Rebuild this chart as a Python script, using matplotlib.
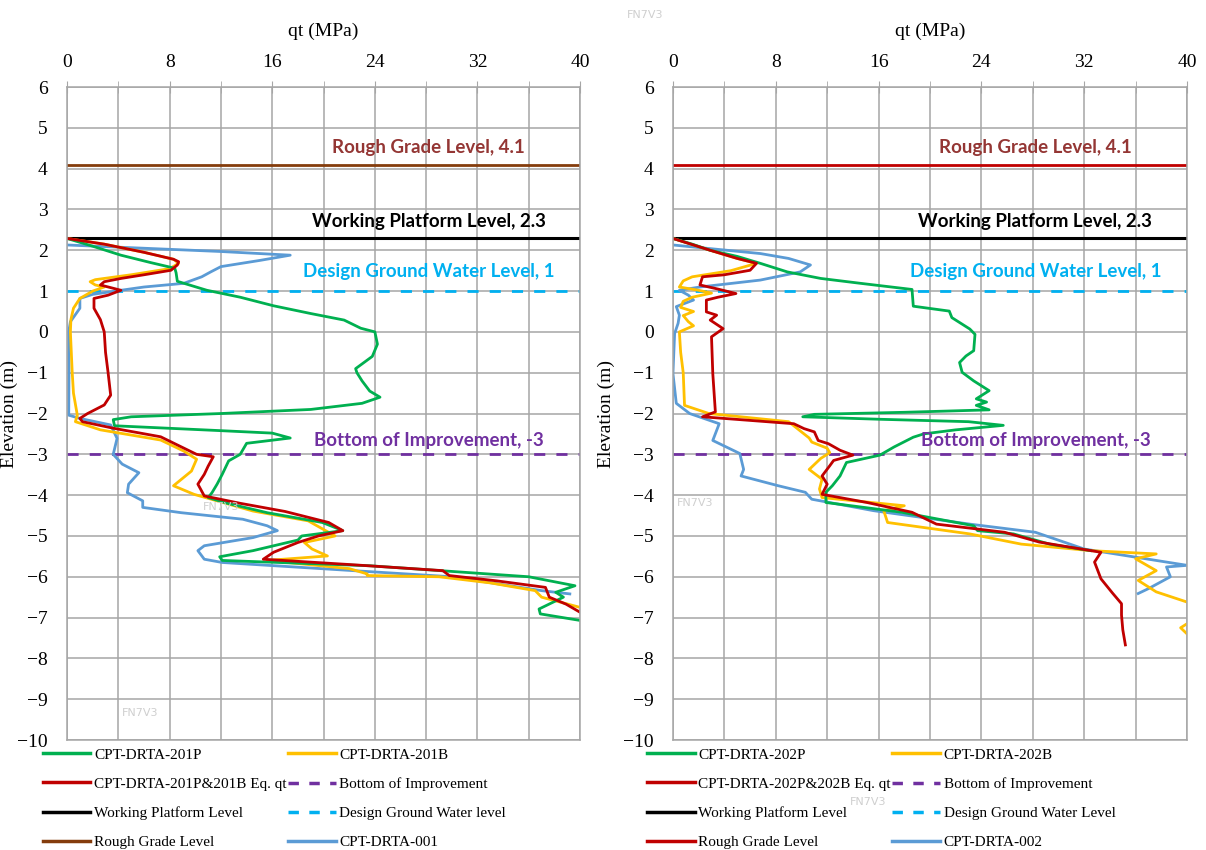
import matplotlib.pyplot as plt
import numpy as np
from matplotlib.lines import Line2D
from matplotlib.ticker import MultipleLocator

# === DATA ===
# reference levels (m)
rough_grade = 4.1
working_platform = 2.3
design_gw = 1.0
bottom_improvement = -3.0

# --- CPT 201 group (left panel) ---
elev_201P = [2.29, 2.1, 1.88, 1.7, 1.56, 1.45, 1.24, 1.02, 0.85, 0.64, 0.45, 0.29, 0.09, 0.0, -0.3, -0.6,
             -0.9, -1.0, -1.2, -1.45, -1.6, -1.75, -1.9, -2.0, -2.08, -2.15, -2.3, -2.42, -2.48, -2.6, -2.73,
             -3.0, -3.16, -3.49, -3.73, -3.94, -4.06, -4.2, -4.43, -4.67, -4.87, -5.0, -5.1, -5.36, -5.51,
             -5.6, -5.73, -6.0, -6.22, -6.38, -6.5, -6.79, -6.91, -7.07]
qt_201P = [0.0, 2.0, 4.2, 6.5, 8.4, 8.5, 8.6, 10.9, 13.5, 16.1, 19.0, 21.6, 22.9, 24.0, 24.2, 23.8,
           22.5, 22.6, 23.0, 23.6, 24.4, 23.0, 19.0, 12.0, 5.0, 3.6, 3.7, 12.0, 16.0, 17.4, 14.0,
           13.5, 12.6, 12.1, 11.7, 11.3, 11.0, 12.5, 15.6, 19.9, 21.5, 18.3, 18.0, 14.5, 11.9,
           12.1, 23.6, 36.0, 39.6, 38.1, 38.7, 36.8, 36.9, 40.0]

elev_201B = [2.29, 2.15, 1.95, 1.78, 1.68, 1.55, 1.4, 1.28, 1.23, 1.15, 1.1, 1.0, 0.82, 0.58, 0.3, 0.0,
             -0.98, -1.5, -2.04, -2.2, -2.4, -2.65, -2.92, -3.12, -3.41, -3.77, -3.98, -4.39, -4.63, -5.0,
             -5.16, -5.32, -5.49, -5.6, -5.8, -5.93, -5.97, -6.0, -6.15, -6.34, -6.5, -6.75]
qt_201B = [0.0, 2.9, 6.0, 8.3, 8.7, 8.0, 5.0, 2.2, 1.8, 2.2, 2.9, 2.0, 1.0, 0.5, 0.3, 0.26,
           0.4, 0.5, 0.8, 0.65, 2.6, 7.3, 9.1, 10.1, 9.7, 8.3, 9.9, 14.5, 18.8, 20.9,
           18.5, 19.1, 20.3, 15.6, 22.0, 23.4, 23.4, 29.0, 33.0, 36.5, 37.0, 40.0]

elev_201eq = [2.29, 2.15, 1.95, 1.78, 1.72, 1.64, 1.51, 1.4, 1.31, 1.23, 1.15, 1.02, 0.9, 0.82, 0.58,
              0.3, 0.0, -0.5, -1.0, -1.55, -1.79, -2.0, -2.12, -2.2, -2.36, -2.57, -2.77, -3.0, -3.06,
              -3.29, -3.49, -3.73, -4.02, -4.2, -4.4, -4.67, -4.87, -5.0, -5.16, -5.4, -5.57, -5.7,
              -5.85, -5.97, -6.1, -6.26, -6.5, -6.67, -6.87]
qt_201eq = [0.0, 2.9, 6.0, 8.3, 8.7, 8.6, 8.1, 6.0, 4.2, 2.9, 2.6, 4.2, 3.2, 2.1, 2.1,
            2.6, 2.9, 3.0, 3.2, 3.4, 2.9, 1.6, 1.0, 1.2, 3.6, 7.3, 8.6, 10.1, 11.4,
            11.0, 10.7, 10.2, 10.7, 13.5, 17.0, 20.4, 21.5, 19.6, 18.0, 16.1, 15.3, 22.0,
            29.3, 29.8, 33.5, 37.3, 37.6, 38.9, 40.0]

elev_001 = [2.13, 2.05, 1.97, 1.88, 1.75, 1.6, 1.47, 1.35, 1.19, 1.1, 1.02, 0.92, 0.82, 0.58, 0.25,
            0.0, -1.0, -2.04, -2.12, -2.28, -2.61, -3.0, -3.24, -3.45, -3.73, -3.94, -4.14, -4.3,
            -4.43, -4.59, -4.75, -4.87, -5.04, -5.24, -5.36, -5.57, -5.65, -6.0, -6.34, -6.42]
qt_001 = [0.0, 6.0, 12.0, 17.4, 15.0, 12.0, 11.2, 10.5, 9.1, 6.0, 4.2, 2.0, 1.0, 1.0, 0.26,
          0.13, 0.15, 0.13, 1.0, 3.4, 3.9, 3.6, 4.3, 5.6, 4.8, 4.7, 5.9, 5.9,
          8.9, 13.7, 15.6, 16.4, 14.5, 10.7, 10.2, 10.7, 12.1, 30.0, 37.0, 39.2]

# --- CPT 202 group (right panel) ---
elev_202P = [2.29, 2.15, 2.0, 1.85, 1.68, 1.47, 1.31, 1.19, 1.04, 0.63, 0.51, 0.35, 0.27, 0.07, -0.06,
             -0.46, -0.59, -0.75, -0.99, -1.2, -1.44, -1.64, -1.72, -1.8, -1.91, -1.97, -2.02, -2.08,
             -2.14, -2.2, -2.29, -2.4, -2.5, -2.58, -2.82, -3.02, -3.2, -3.53, -3.77, -3.93, -4.18,
             -4.42, -4.75, -4.87, -4.95, -5.2, -5.36]
qt_202P = [0.0, 1.5, 2.9, 5.0, 6.8, 8.9, 11.5, 14.6, 18.6, 18.7, 21.5, 21.7, 22.1, 23.1, 23.5,
           23.4, 22.8, 22.3, 22.5, 23.4, 24.6, 23.6, 24.4, 23.6, 24.6, 18.0, 11.0, 10.1,
           16.0, 23.0, 25.7, 22.0, 19.5, 18.7, 17.2, 16.1, 13.5, 13.0, 12.4, 11.9, 11.9,
           17.8, 23.4, 23.7, 26.5, 29.3, 32.5]

elev_202B = [2.29, 2.0, 1.8, 1.68, 1.5, 1.35, 1.25, 1.1, 1.02, 0.95, 0.85, 0.75, 0.6, 0.5, 0.4, 0.25,
             0.15, 0.0, -0.5, -1.0, -1.8, -2.0, -2.2, -2.5, -2.6, -2.7, -2.85, -2.96, -3.1, -3.37,
             -3.61, -3.85, -4.06, -4.26, -4.38, -4.67, -4.95, -5.2, -5.36, -5.44, -5.56, -5.85, -6.09,
             -6.37, -6.62, np.nan, -7.15, -7.25, -7.4]
qt_202B = [0.0, 2.9, 5.0, 6.5, 4.5, 1.5, 0.8, 0.5, 2.0, 3.0, 1.5, 0.8, 0.6, 1.6, 0.8, 1.2,
           1.6, 0.5, 0.6, 0.8, 0.9, 2.8, 9.0, 10.2, 10.6, 10.8, 12.0, 12.2, 11.5, 10.6,
           11.6, 11.4, 11.6, 18.0, 16.4, 16.7, 23.1, 27.1, 32.5, 37.6, 36.0, 37.6, 36.2,
           37.6, 40.0, np.nan, 40.0, 39.5, 40.0]

elev_202eq = [2.29, 2.0, 1.8, 1.68, 1.51, 1.4, 1.35, 1.15, 1.05, 0.94, 0.85, 0.78, 0.49, 0.41, 0.29,
              0.08, -0.12, -1.02, -1.96, -2.08, -2.25, -2.37, -2.45, -2.66, -2.74, -2.9, -3.02,
              -3.15, -3.28, -3.53, -3.73, -3.98, -4.18, -4.42, -4.71, -4.91, -5.15, -5.4, -5.64,
              -6.05, -6.4, -6.66, -6.94, -7.3, -7.67]
qt_202eq = [0.0, 2.9, 5.0, 6.5, 6.0, 4.0, 2.3, 2.1, 3.5, 4.9, 3.5, 2.6, 2.6, 3.4, 2.9,
            3.9, 3.0, 3.1, 3.3, 2.3, 9.4, 10.2, 11.0, 11.3, 12.1, 13.0, 14.0,
            12.5, 12.2, 11.6, 12.0, 11.6, 15.1, 18.6, 20.5, 25.8, 28.5, 33.3, 32.8,
            33.3, 34.2, 34.9, 34.9, 35.0, 35.2]

elev_002 = [2.13, 1.92, 1.8, 1.64, 1.47, 1.27, 1.1, 1.02, 0.9, 0.78, 0.62, 0.41, 0.21, -0.04, -1.02,
            -1.75, -2.0, -2.25, -2.66, -2.98, -3.37, -3.53, -3.77, -3.93, -4.1, -4.38, -4.71, -4.91,
            -5.32, -5.72, -5.76, -6.0, -6.29, -6.41]
qt_002 = [0.0, 6.8, 9.0, 10.7, 9.9, 6.8, 2.1, 0.5, 1.2, 1.6, 0.26, 0.5, 0.4, 0.13, 0.0,
          0.26, 1.3, 3.6, 3.1, 5.2, 5.5, 5.3, 8.2, 10.3, 10.8, 15.6, 23.1, 28.2,
          32.0, 40.0, 38.4, 38.7, 37.0, 36.2]

# === STYLE ===
GREEN, GOLD, RED, BLUE = '#00B050', '#FFC000', '#C00000', '#5B9BD5'
CYAN, PURPLE = '#00B0F0', '#7030A0'
GRID = '#A6A6A6'
serif = 'Liberation Serif'
lab_font = 'Lato'

fig = plt.figure(figsize=(12.06, 8.5), dpi=100)
ax_l = fig.add_axes([0.0556, 0.1294, 0.4254, 0.7682])
ax_r = fig.add_axes([0.5580, 0.1294, 0.4263, 0.7682])

panels = [
    (ax_l, '201', '001', '#843C0C', 'Design Ground Water level', -0.0955, -0.047,
     (elev_201P, qt_201P), (elev_201B, qt_201B), (elev_201eq, qt_201eq), (elev_001, qt_001)),
    (ax_r, '202', '002', RED, 'Design Ground Water Level', -0.113, -0.05,
     (elev_202P, qt_202P), (elev_202B, qt_202B), (elev_202eq, qt_202eq), (elev_002, qt_002)),
]

for ax, tag, ref, rg_col, gw_label, ylab_x, leg_x, P, B, EQ, CPT in panels:
    ax.set_xlim(0, 40)
    ax.set_ylim(-10, 6)
    ax.xaxis.set_major_locator(MultipleLocator(8))
    ax.xaxis.set_minor_locator(MultipleLocator(4))
    ax.yaxis.set_major_locator(MultipleLocator(1))
    ax.xaxis.tick_top()
    ax.xaxis.set_label_position('top')
    ax.grid(True, which='both', color=GRID, linewidth=1.1)
    ax.set_axisbelow(True)
    for s in ax.spines.values():
        s.set_color(GRID)
        s.set_linewidth(1.1)
    ax.tick_params(axis='x', which='both', direction='inout', length=9, color=GRID,
                   labelsize=14, pad=7)
    ax.tick_params(axis='y', length=0, labelsize=14, pad=14)
    for t in ax.get_xticklabels() + ax.get_yticklabels():
        t.set_fontfamily(serif)
    ax.set_xlabel('qt (MPa)', fontsize=14, fontfamily=serif, labelpad=13)
    ax.set_ylabel('Elevation (m)', fontsize=14, fontfamily=serif)
    ax.yaxis.set_label_coords(ylab_x, 0.5)

    # level lines
    ax.axhline(rough_grade, color=rg_col, lw=2)
    ax.axhline(working_platform, color='black', lw=2.2)
    ax.axhline(design_gw, color=CYAN, lw=2, ls=(0, (4, 4)))
    ax.axhline(bottom_improvement, color=PURPLE, lw=2, ls=(0, (4, 4)))

    # CPT traces
    ax.plot(CPT[1], CPT[0], color=BLUE, lw=2)
    ax.plot(B[1], B[0], color=GOLD, lw=2)
    ax.plot(P[1], P[0], color=GREEN, lw=2)
    ax.plot(EQ[1], EQ[0], color=RED, lw=2)

    # level annotations
    tx = 28.2
    kw = dict(fontsize=13.5, fontweight='bold', fontfamily=lab_font, ha='center', va='bottom')
    ax.text(tx, rough_grade + 0.22, f'Rough Grade Level, {rough_grade}', color='#943634', **kw)
    ax.text(tx, working_platform + 0.2, f'Working Platform Level, {working_platform}', color='black', **kw)
    ax.text(tx, design_gw + 0.27, f'Design Ground Water Level, {design_gw:g}', color=CYAN, **kw)
    ax.text(tx, bottom_improvement + 0.12, f'Bottom of Improvement, {bottom_improvement:g}',
            color=PURPLE, **kw)

    handles = [
        Line2D([], [], color=GREEN, lw=2.5),
        Line2D([], [], color=RED, lw=2.5),
        Line2D([], [], color='black', lw=2.5),
        Line2D([], [], color=rg_col, lw=2.5),
        Line2D([], [], color=GOLD, lw=2.5),
        Line2D([], [], color=PURPLE, lw=2.5, ls=(0, (3, 3))),
        Line2D([], [], color=CYAN, lw=2.5, ls=(0, (3, 3))),
        Line2D([], [], color=BLUE, lw=2.5),
    ]
    labels = [f'CPT-DRTA-{tag}P', f'CPT-DRTA-{tag}P&{tag}B Eq. qt', 'Working Platform Level',
              'Rough Grade Level', f'CPT-DRTA-{tag}B', 'Bottom of Improvement', gw_label,
              f'CPT-DRTA-{ref}']
    ax.legend(handles, labels, loc='upper left', bbox_to_anchor=(leg_x, -0.012), ncol=2,
              frameon=False, prop={'family': serif, 'size': 11}, handlelength=3.1,
              handletextpad=0.25, columnspacing=0.1, labelspacing=1.02, borderpad=0,
              borderaxespad=0)

# faint watermarks present in the source image
for x, y in [(0.183, 0.403), (0.116, 0.161), (0.535, 0.982), (0.576, 0.408), (0.72, 0.056)]:
    fig.text(x, y, 'FN7V3', color='#cfcfcf', fontsize=8, ha='center', va='center')

fig.savefig('out.png', dpi=100)
